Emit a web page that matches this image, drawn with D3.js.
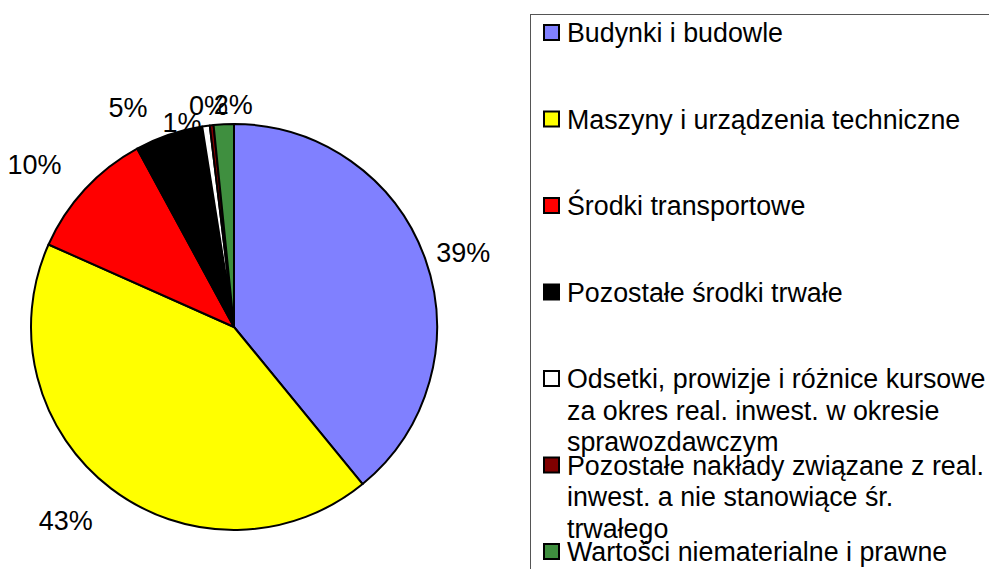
<!DOCTYPE html>
<html>
<head>
<meta charset="utf-8">
<script src="https://cdn.jsdelivr.net/npm/d3@7"></script>
<style>
  body { margin: 0; background: #fff; }
  svg { font-family: "Liberation Sans", Arial, sans-serif; }
</style>
</head>
<body>
<svg id="chart" width="989" height="569"></svg>
<script>
var categories = [
  "Budynki i budowle",
  "Maszyny i urządzenia techniczne",
  "Środki transportowe",
  "Pozostałe środki trwałe",
  "Odsetki, prowizje i różnice kursowe za okres real. inwest. w okresie sprawozdawczym",
  "Pozostałe nakłady związane z real. inwest. a nie stanowiące śr. trwałego",
  "Wartości niematerialne i prawne"
];
var values = [39.0, 42.5, 10.4, 5.4, 0.6, 0.3, 1.6];
var colors = ["#8080ff", "#ffff00", "#ff0000", "#000000", "#ffffff", "#800000", "#3f8f3f"];
// legend lines as wrapped in the original
var legendLines = [
  ["Budynki i budowle"],
  ["Maszyny i urządzenia techniczne"],
  ["Środki transportowe"],
  ["Pozostałe środki trwałe"],
  ["Odsetki, prowizje i różnice kursowe", "za okres real. inwest. w okresie", "sprawozdawczym"],
  ["Pozostałe nakłady związane z real.", "inwest. a nie stanowiące śr.", "trwałego"],
  ["Wartości niematerialne i prawne"]
];

var svg = d3.select("#chart"),
    cx = 234, cy = 327, radius = 203;

var data = categories.map(function(c, i) { return { name: c, value: values[i], color: colors[i] }; });
var total = d3.sum(values);

var pie = d3.pie().value(function(d) { return d.value; }).sort(null);
var arc = d3.arc().innerRadius(0).outerRadius(radius);

var g = svg.append("g").attr("transform", "translate(" + cx + "," + cy + ")");
var arcs = pie(data);

g.selectAll("path")
    .data(arcs)
  .enter().append("path")
    .attr("d", arc)
    .attr("fill", function(d) { return d.data.color; })
    .attr("stroke", "#000")
    .attr("stroke-width", 2)
    .attr("stroke-linejoin", "round");

// label placement, roughly like excel (small nudges for the crowded top slices)
var labelR = [218, 238, 232, 232, 232, 232, 232];
var nudge = [[-3, -1], [3, 4], [-2, -5], [-12, 0], [-20, 25], [0, 9], [11, 9]];

g.selectAll("text.lbl")
    .data(arcs)
  .enter().append("text")
    .attr("class", "lbl")
    .each(function(d, i) {
      var a = (d.startAngle + d.endAngle) / 2,
          s = Math.sin(a), c = -Math.cos(a),
          x = s * labelR[i] + nudge[i][0],
          y = c * labelR[i] + nudge[i][1];
      d3.select(this)
        .attr("x", x)
        .attr("y", y)
        .attr("dy", "0.35em")
        .attr("text-anchor", s > 0.2 ? "start" : (s < -0.2 ? "end" : "middle"));
    })
    .attr("font-size", 27)
    .attr("fill", "#000")
    .text(function(d) { return Math.round(d.data.value / total * 100) + "%"; });

// legend
var legend = svg.append("g");
legend.append("rect")
    .attr("x", 530.5).attr("y", 14.5)
    .attr("width", 480).attr("height", 600)
    .attr("fill", "none")
    .attr("stroke", "#555")
    .attr("stroke-width", 1);

var step = 86.5, top0 = 33, lineH = 31.5;
var items = legend.selectAll("g.item")
    .data(data)
  .enter().append("g")
    .attr("class", "item")
    .attr("transform", function(d, i) { return "translate(0," + (top0 + i * step) + ")"; });

items.append("rect")
    .attr("x", 544).attr("y", -8)
    .attr("width", 15).attr("height", 15)
    .attr("fill", function(d) { return d.color; })
    .attr("stroke", "#000")
    .attr("stroke-width", 2);

items.append("text")
    .attr("font-size", 26.8)
    .attr("fill", "#000")
    .selectAll("tspan")
    .data(function(d, i) { return legendLines[i]; })
  .enter().append("tspan")
    .attr("x", 567)
    .attr("y", function(d, j) { return j * lineH; })
    .attr("dy", "0.35em")
    .text(function(d) { return d; });
</script>
</body>
</html>
